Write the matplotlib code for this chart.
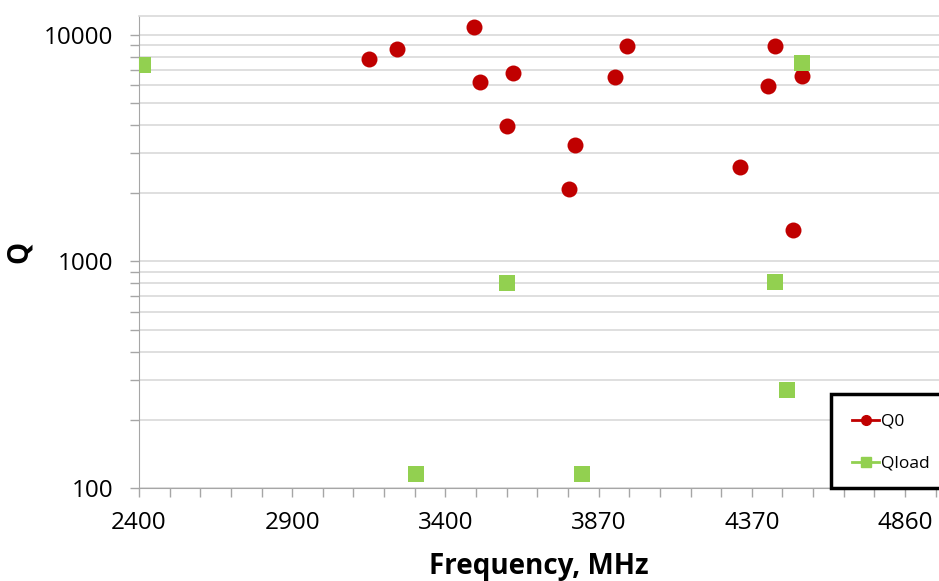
import matplotlib.pyplot as plt
from matplotlib.patches import Rectangle
from matplotlib.lines import Line2D
from matplotlib.ticker import LogLocator, NullFormatter, FixedLocator

plt.rcParams['font.family'] = ['Open Sans', 'DejaVu Sans']

# Q0 points (frequency MHz, Q)
q0_freq = [3140, 3228, 3476, 3495, 3602, 3583, 3780, 3801, 3929, 3968,
           4419, 4442, 4529, 4331, 4499]
q0_val = [7840, 8615, 10810, 6190, 6800, 3960, 2090, 3277, 6486, 8943,
          5960, 8915, 6597, 2603, 1370]

# Qload points
ql_freq = [2412, 4530, 4442, 3582, 4480, 3290, 3822]
ql_val = [7380, 7505, 811, 800, 270, 115, 115]

x_ticks = [2400, 2892, 3384, 3876, 4368, 4860]
x_labels = ['2400', '2900', '3400', '3870', '4370', '4860']

red = '#C00000'
green = '#92D050'
grid_c = '#d9d9d9'
axis_c = '#a6a6a6'

fig = plt.figure(figsize=(9.39, 5.81), dpi=100)
ax = fig.add_axes([139 / 939, 1 - 488 / 581, 1 - 139 / 939, (488 - 16) / 581])

ax.plot(q0_freq, q0_val, 'o', color=red, markersize=11.5, markeredgewidth=0, zorder=3)
ax.plot(ql_freq, ql_val, 's', color=green, markersize=11, markeredgewidth=0, zorder=3)

ax.set_yscale('log')
ax.set_ylim(100, 12100)
ax.set_xlim(2400, 4969)

ax.yaxis.set_major_locator(FixedLocator([100, 1000, 10000]))
ax.set_yticklabels(['100', '1000', '10000'])
ax.yaxis.set_minor_locator(LogLocator(base=10, subs=range(2, 10)))
ax.yaxis.set_minor_formatter(NullFormatter())

ax.set_xticks(x_ticks)
ax.set_xticklabels(x_labels)
ax.set_xticks([2400 + 98.4 * i for i in range(27)], minor=True)

ax.grid(True, which='both', axis='y', color=grid_c, linewidth=1.2)
ax.set_axisbelow(True)

ax.spines['right'].set_visible(False)
ax.spines['top'].set_color(grid_c)
ax.spines['top'].set_linewidth(1.2)
ax.spines['left'].set_color(axis_c)
ax.spines['bottom'].set_color(axis_c)

ax.tick_params(axis='both', which='both', direction='out', color=axis_c,
               length=6.5, width=1)
ax.tick_params(axis='y', which='major', labelsize=17.5, pad=12)
ax.tick_params(axis='x', which='major', labelsize=17.5, pad=10)

ax.set_xlabel('Frequency, MHz', fontsize=20, fontweight='bold', labelpad=12)
ax.set_ylabel('Q', fontsize=20, fontweight='bold')
ax.yaxis.set_label_coords(-0.132, 0.5)

# legend box running off the right edge
fig.patches.append(Rectangle((831 / 939, 1 - 488 / 581), 0.2, (488 - 394) / 581,
                             transform=fig.transFigure, fill=True,
                             facecolor='white', edgecolor='black',
                             linewidth=2.5, zorder=5))
handles = [Line2D([], [], color=red, marker='o', markersize=7, linewidth=2),
           Line2D([], [], color=green, marker='s', markersize=7, linewidth=2)]
leg = fig.legend(handles, ['Q0', 'Qload'], loc='upper left',
                 bbox_to_anchor=(836 / 939, 1 - 398 / 581), frameon=False,
                 fontsize=12.5, handlelength=1.6, handletextpad=0.1,
                 labelspacing=1.5)
leg.set_zorder(6)

fig.savefig('out.png', dpi=100)
